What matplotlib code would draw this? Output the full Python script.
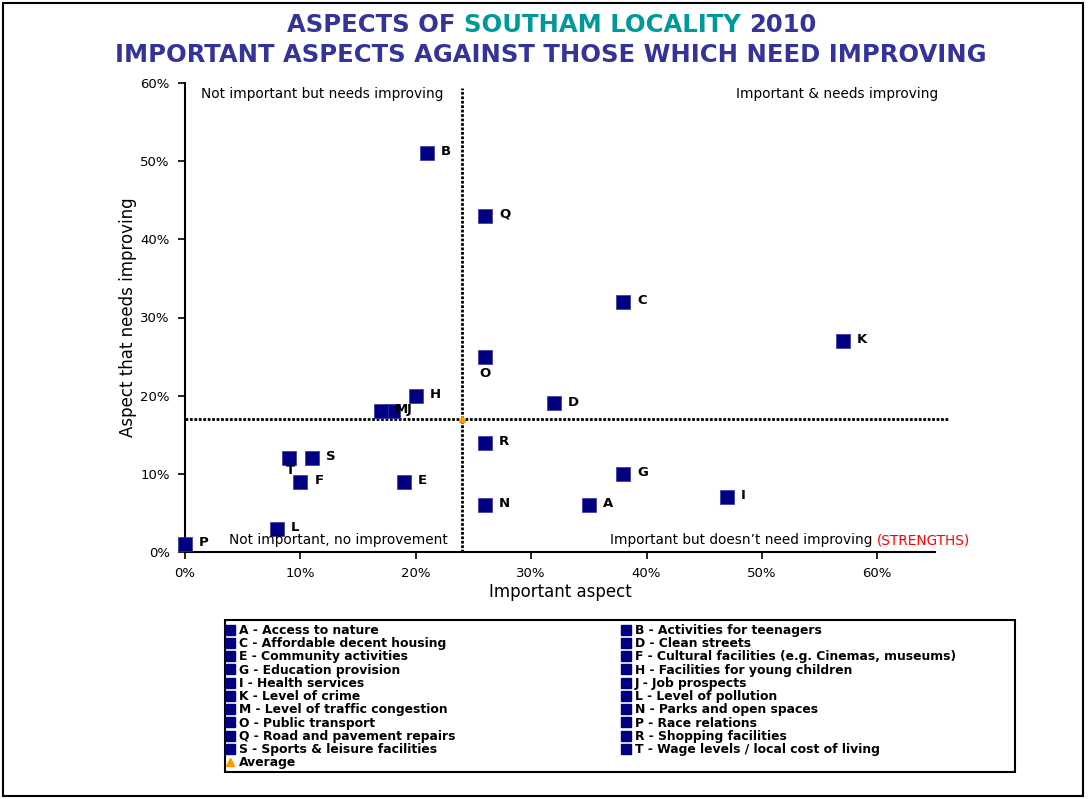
import matplotlib
matplotlib.use("Agg")
import matplotlib.pyplot as plt
from matplotlib.lines import Line2D
from matplotlib.patches import Rectangle
from matplotlib.ticker import PercentFormatter

# --- data (percent) ---
codes = list("ABCDEFGHIJKLMNOPQRST")
important = [35, 21, 38, 32, 19, 10, 38, 20, 47, 18, 57, 8, 17, 26, 26, 0, 26, 26, 11, 9]
needs_improving = [6, 51, 32, 19, 9, 9, 10, 20, 7, 18, 27, 3, 18, 6, 25, 1, 43, 14, 12, 12]
descriptions = [
    "Access to nature", "Activities for teenagers", "Affordable decent housing",
    "Clean streets", "Community activities",
    "Cultural facilities (e.g. Cinemas, museums)", "Education provision",
    "Facilities for young children", "Health services", "Job prospects",
    "Level of crime", "Level of pollution", "Level of traffic congestion",
    "Parks and open spaces", "Public transport", "Race relations",
    "Road and pavement repairs", "Shopping facilities",
    "Sports & leisure facilities", "Wage levels / local cost of living",
]
avg_important = 24
avg_improving = 17

NAVY = "#000080"
TITLE = "#333399"
TEAL = "#009999"
ORANGE = "#FF9900"

# label offsets in points (most labels sit to the right of the marker)
offsets = {"O": (0, -12, "center"), "T": (1, -8.5, "center")}

fig = plt.figure(figsize=(10.88, 7.99), dpi=100)
ax = fig.add_axes([185 / 1088, 1 - 552 / 799, 750 / 1088, 469 / 799])

for c, x, y in zip(codes, important, needs_improving):
    ax.plot(x, y, marker="s", ms=10, color=NAVY, mec="#3333aa", mew=0.5,
            ls="none", clip_on=False, zorder=3)
    dx, dy, ha = offsets.get(c, (10, 1, "left"))
    ax.annotate(c, (x, y), xytext=(dx, dy), textcoords="offset points",
                ha=ha, va="center", fontsize=9.5, fontweight="bold", zorder=4)

# average cross-hairs
ax.axvline(avg_important, ymin=0, ymax=59.3 / 60, color="black", lw=2,
           ls=(0, (1, 0.6)), zorder=2)
ax.plot([0, 66.2], [avg_improving, avg_improving], color="black", lw=2,
        ls=(0, (1, 0.6)), clip_on=False, zorder=2)
ax.plot(avg_important, avg_improving, marker="^", ms=4, color=ORANGE,
        ls="none", zorder=5)

ax.set_xlim(0, 65)
ax.set_ylim(0, 60)
ax.set_xticks(range(0, 61, 10))
ax.set_yticks(range(0, 61, 10))
ax.xaxis.set_major_formatter(PercentFormatter(decimals=0))
ax.yaxis.set_major_formatter(PercentFormatter(decimals=0))
ax.tick_params(labelsize=9.5, length=5, width=1.2, direction="out", pad=6)
for s in ["top", "right"]:
    ax.spines[s].set_visible(False)
for s in ["left", "bottom"]:
    ax.spines[s].set_linewidth(1.5)
ax.set_xlabel("Important aspect", fontsize=12, labelpad=2)
ax.set_ylabel("Aspect that needs improving", fontsize=12, labelpad=2)

# quadrant captions
qkw = dict(transform=ax.transAxes, fontsize=9.8, va="center")
ax.text(16 / 750, 1 - 11 / 469, "Not important but needs improving", ha="left", **qkw)
ax.text(1.004, 1 - 11 / 469, "Important & needs improving", ha="right", **qkw)
ax.text(44 / 750, 12 / 469, "Not important, no improvement", ha="left", **qkw)
t = ax.text(425 / 750, 12 / 469, "Important but doesn\u2019t need improving ",
            ha="left", **qkw)
ax.annotate("(STRENGTHS)", xy=(1, 0), xycoords=t, va="bottom", fontsize=9.8,
            color="red")

# title, second word group in teal
TS = 17.5
t1 = fig.text(287 / 1088, 1 - 25 / 799, "ASPECTS OF ", color=TITLE,
              fontsize=TS, fontweight="bold", va="center")
t2 = ax.annotate("SOUTHAM LOCALITY ", xy=(1, 0), xycoords=t1, va="bottom",
                 ha="left", color=TEAL, fontsize=TS, fontweight="bold",
                 annotation_clip=False)
ax.annotate("2010", xy=(1, 0), xycoords=t2, va="bottom", ha="left",
            color=TITLE, fontsize=TS, fontweight="bold", annotation_clip=False)
fig.text(551 / 1088, 1 - 55 / 799,
         "IMPORTANT ASPECTS AGAINST THOSE WHICH NEED IMPROVING",
         color=TITLE, ha="center", va="center", fontsize=TS, fontweight="bold")

# legend: left column = A, C, ..., S, Average; right column = B, D, ..., T
entries = [f"{c} - {d}" for c, d in zip(codes, descriptions)]
sq = lambda: Line2D([], [], marker="s", ms=6.8, color=NAVY, ls="none")
left_h = [sq() for _ in codes[0::2]] + [
    Line2D([], [], marker="^", ms=5.5, color=ORANGE, ls="none")]
left_l = entries[0::2] + ["Average"]
right_h = [sq() for _ in codes[1::2]]
right_l = entries[1::2]
lkw = dict(loc="upper left", prop={"size": 8.9, "weight": "bold"},
           frameon=False, labelspacing=0.02, handlelength=0.7,
           handletextpad=0.35, borderpad=0, borderaxespad=0)
fig.legend(left_h, left_l, bbox_to_anchor=(226 / 1088, 1 - 624 / 799), **lkw)
fig.legend(right_h, right_l, bbox_to_anchor=(622 / 1088, 1 - 624 / 799), **lkw)

fig.patches.append(Rectangle((225 / 1088, 1 - 772 / 799), 790 / 1088, 152 / 799,
                             transform=fig.transFigure, fill=False,
                             ec="black", lw=1.5))
fig.patches.append(Rectangle((3 / 1088, 3 / 799), 1080 / 1088, 793 / 799,
                             transform=fig.transFigure, fill=False,
                             ec="black", lw=1.5))

fig.savefig("out.png", dpi=100)
